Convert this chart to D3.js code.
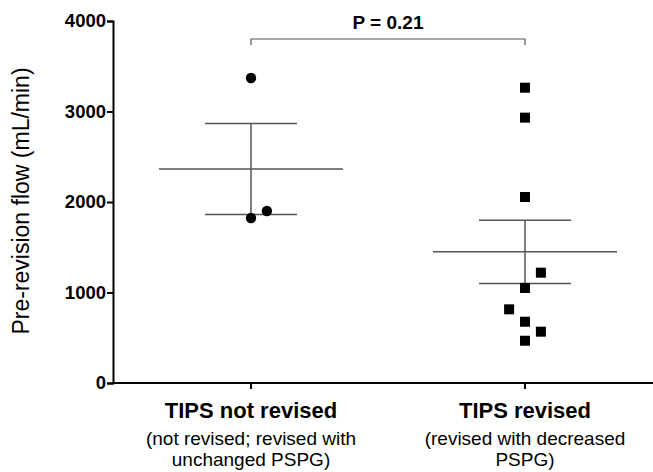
<!DOCTYPE html>
<html>
<head>
<meta charset="utf-8">
<script src="https://cdn.jsdelivr.net/npm/d3@7"></script>
<style>
  body { margin:0; background:#fff; }
  text { font-family: "Liberation Sans", Arial, sans-serif; }
</style>
</head>
<body>
<div id="chart"></div>
<script>
// data
const groups = ["TIPS not revised", "TIPS revised"];
const subLabels = [["(not revised; revised with", "unchanged PSPG)"], ["(revised with decreased", "PSPG)"]];
const notRevised = [3370, 1823, 1900];
const notRevisedJitter = [0, 0, 0.058];
const revised = [3263, 2932, 2055, 1219, 1050, 814, 677, 567, 467];
const revisedJitter = [0, 0, 0, 0.058, 0, -0.058, 0, 0.058, 0];
const yTicks = [0, 1000, 2000, 3000, 4000];
const pLabel = "P = 0.21";

var width = 653,
    height = 472;

var svg = d3.select("#chart").append("svg")
  .attr("width", width)
  .attr("height", height);

var yScale = d3.scaleLinear().domain([0, 4000]).range([383, 21]);
var xScale = d3.scaleLinear().domain([0, 1]).range([251, 525]);

function stats(arr) {
  var m = d3.mean(arr);
  var sem = d3.deviation(arr) / Math.sqrt(arr.length);
  return { mean: m, sem: sem };
}

// axes
var yAxis = d3.axisLeft(yScale).tickValues(yTicks).tickSize(6).tickPadding(1).tickFormat(d3.format("d"));
var gy = svg.append("g")
  .attr("transform", "translate(113,0)")
  .call(yAxis);
gy.select(".domain").attr("stroke", "#000").attr("stroke-width", 2);
gy.selectAll(".tick line").attr("stroke-width", 2);
gy.selectAll(".tick text")
  .style("font-size", "18.5px")
  .style("font-weight", "bold")
  .attr("fill", "#000")
  .attr("font-family", null);

svg.append("line")
  .attr("x1", 112).attr("x2", 653)
  .attr("y1", yScale(0)).attr("y2", yScale(0))
  .attr("stroke", "#000").attr("stroke-width", 2);

svg.selectAll(".xtick")
  .data(groups)
  .enter()
  .append("line")
  .attr("class", "xtick")
  .attr("x1", function (d, i) { return xScale(i); })
  .attr("x2", function (d, i) { return xScale(i); })
  .attr("y1", yScale(0))
  .attr("y2", yScale(0) + 6)
  .attr("stroke", "#000").attr("stroke-width", 2);

svg.selectAll(".xlabel")
  .data(groups)
  .enter()
  .append("text")
  .attr("x", function (d, i) { return xScale(i); })
  .attr("y", 418)
  .attr("text-anchor", "middle")
  .style("font-size", "22px")
  .style("font-weight", "bold")
  .text(function (d) { return d; });

subLabels.forEach(function (lines, i) {
  lines.forEach(function (t, j) {
    svg.append("text")
      .attr("x", xScale(i))
      .attr("y", 445 + j * 21)
      .attr("text-anchor", "middle")
      .style("font-size", "19px")
      .text(t);
  });
});

svg.append("text")
  .attr("transform", "rotate(-90)")
  .attr("x", -201)
  .attr("y", 29)
  .attr("text-anchor", "middle")
  .style("font-size", "23px")
  .text("Pre-revision flow (mL/min)");

// mean and SEM
[notRevised, revised].forEach(function (arr, i) {
  var s = stats(arr);
  var cx = xScale(i);
  var g = svg.append("g").attr("stroke", "#555").attr("stroke-width", 1.5);
  g.append("line").attr("x1", cx - 92).attr("x2", cx + 92)
    .attr("y1", yScale(s.mean)).attr("y2", yScale(s.mean));
  g.append("line").attr("x1", cx).attr("x2", cx)
    .attr("y1", yScale(s.mean + s.sem)).attr("y2", yScale(s.mean - s.sem));
  g.append("line").attr("x1", cx - 46).attr("x2", cx + 46)
    .attr("y1", yScale(s.mean + s.sem)).attr("y2", yScale(s.mean + s.sem));
  g.append("line").attr("x1", cx - 46).attr("x2", cx + 46)
    .attr("y1", yScale(s.mean - s.sem)).attr("y2", yScale(s.mean - s.sem));
});

// points
svg.selectAll(".dot")
  .data(notRevised)
  .enter()
  .append("circle")
  .attr("class", "dot")
  .attr("cx", function (d, i) { return xScale(0 + notRevisedJitter[i]); })
  .attr("cy", function (d) { return yScale(d); })
  .attr("r", 5.2)
  .attr("fill", "#000");

svg.selectAll(".sq")
  .data(revised)
  .enter()
  .append("rect")
  .attr("class", "sq")
  .attr("x", function (d, i) { return xScale(1 + revisedJitter[i]) - 5; })
  .attr("y", function (d) { return yScale(d) - 5; })
  .attr("width", 10)
  .attr("height", 10)
  .attr("fill", "#000");

// significance bracket
svg.append("path")
  .attr("d", "M" + xScale(0) + ",45V39H" + xScale(1) + "V45")
  .attr("fill", "none")
  .attr("stroke", "#555")
  .attr("stroke-width", 1.2);

svg.append("text")
  .attr("x", (xScale(0) + xScale(1)) / 2)
  .attr("y", 29)
  .attr("text-anchor", "middle")
  .style("font-size", "19px")
  .style("font-weight", "bold")
  .text(pLabel);
</script>
</body>
</html>
